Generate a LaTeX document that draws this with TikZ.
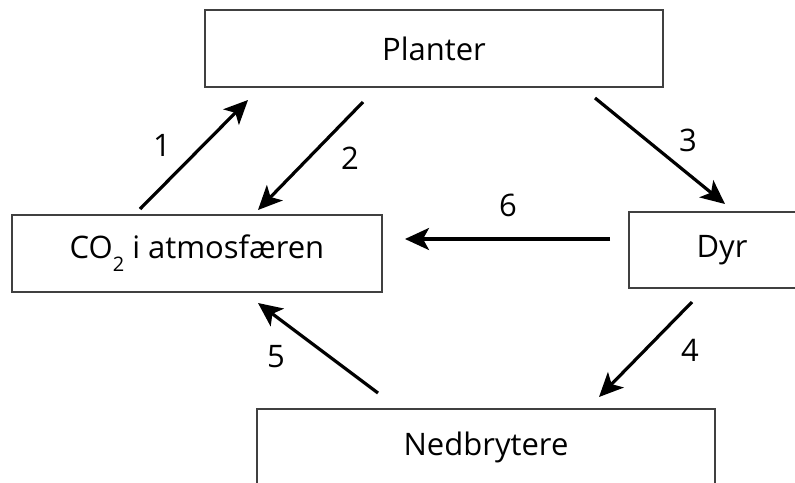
\documentclass[tikz,border=0pt]{standalone}
\usepackage{fontspec}
\setmainfont{Open Sans}
\usetikzlibrary{arrows.meta}
\begin{document}
\begin{tikzpicture}[x=1pt,y=-1pt,
  box/.style={draw=black!75,line width=1.8pt,fill=white,inner sep=0pt,font=\fontsize{31}{34}\selectfont},
  flow/.style={line width=3.2pt,-{Stealth[length=24pt,width=22pt,inset=6pt]}},
  num/.style={font=\fontsize{31}{34}\selectfont}]
\useasboundingbox (0,0) rectangle (795,482);
\clip (0,0) rectangle (795,482);
\node[box,minimum width=458pt,minimum height=77pt] (planter) at (434,48.5) {Planter};
\node[box,minimum width=370pt,minimum height=77pt] (co2) at (197,253.5) {CO\raisebox{-13pt}{\fontsize{20}{20}\selectfont 2} i atmosfæren};
\node[box,minimum width=186pt,minimum height=76pt] (dyr) at (722,250) {Dyr};
\node[box,minimum width=458pt,minimum height=77pt] (ned) at (486,447.5) {Nedbrytere};
\coordinate (s1) at (140,209); \coordinate (e1) at (248,100);
\coordinate (s2) at (363,102); \coordinate (e2) at (258,210);
\coordinate (s3) at (595,98);  \coordinate (e3) at (725,204);
\coordinate (s6) at (610,239); \coordinate (e6) at (405,239);
\coordinate (s4) at (692,302); \coordinate (e4) at (599,397);
\coordinate (s5) at (378,393); \coordinate (e5) at (258,303);
\draw[flow] (s1) -- (e1);
\draw[flow] (s2) -- (e2);
\draw[flow] (s3) -- (e3);
\draw[flow] (s6) -- (e6);
\draw[flow] (s4) -- (e4);
\draw[flow] (s5) -- (e5);
\node[num] (n1) at (162,145) {1};
\node[num] (n2) at (350,158) {2};
\node[num] (n3) at (688,140) {3};
\node[num] (n6) at (508,205) {6};
\node[num] (n4) at (690,350) {4};
\node[num] (n5) at (276,357) {5};
\end{tikzpicture}
\end{document}
